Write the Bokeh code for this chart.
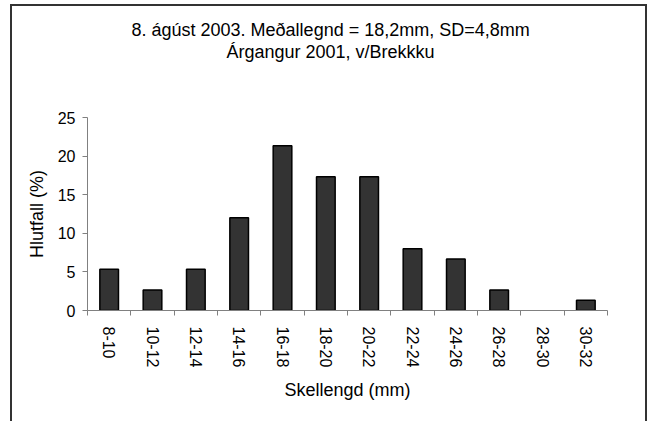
import math
from bokeh.plotting import figure
from bokeh.models import (Range1d, FixedTicker, CustomJSTickFormatter, Title,
                          ColumnDataSource)
from bokeh.embed import file_html
from bokeh.resources import INLINE

categories = ["8-10", "10-12", "12-14", "14-16", "16-18", "18-20",
              "20-22", "22-24", "24-26", "26-28", "28-30", "30-32"]
percent = [5.33, 2.67, 5.33, 12.0, 21.33, 17.33, 17.33, 8.0, 6.67, 2.67, 0.0, 1.33]
y_ticks = [0, 5, 10, 15, 20, 25]
title_lines = ["8. ágúst 2003. Meðallegnd = 18,2mm, SD=4,8mm", "Árgangur 2001, v/Brekkku"]
x_label = "Skellengd (mm)"
y_label = "Hlutfall (%)"

FONT = "Liberation Sans"

pos = [i + 0.5 for i in range(len(categories))]
bounds = list(range(len(categories) + 1))
line_alpha = [0.0 if v == 0 else 1.0 for v in percent]
source = ColumnDataSource(dict(x=pos, top=percent, cat=categories, la=line_alpha))

p = figure(width=637, height=417, output_backend="svg", toolbar_location=None,
           x_range=Range1d(0, len(categories)), y_range=Range1d(0, y_ticks[-1]),
           min_border_left=75, min_border_right=42, min_border_top=111, min_border_bottom=113)
p.styles = {"margin-left": "10px", "margin-top": "4px",
            "border-left": "2px solid #333333",
            "border-top": "2px solid #333333",
            "border-right": "2px solid #333333"}
p.title = None

# title block: spacer next to the frame, then the two lines
p.add_layout(Title(text=" ", text_font_size="18px", text_font=FONT, standoff=34), "above")
p.add_layout(Title(text=title_lines[1], align="left", offset=139, text_font_size="18px",
                   text_font=FONT, text_font_style="normal", text_color="black",
                   standoff=0), "above")
p.add_layout(Title(text=title_lines[0], align="left", offset=44, text_font_size="18px",
                   text_font=FONT, text_font_style="normal", text_color="black",
                   standoff=0), "above")

p.vbar(x="x", top="top", bottom=0, width=0.43, source=source,
       fill_color="#333333", line_color="black", line_width=1.5, line_alpha="la")

p.grid.visible = False
p.outline_line_color = None
p.background_fill_color = "white"
p.border_fill_color = "white"

# x axis
xa = p.xaxis[0]
xa.ticker = FixedTicker(ticks=pos, minor_ticks=bounds)
xa.formatter = CustomJSTickFormatter(args=dict(labels=categories),
                                     code="return labels[Math.round(tick - 0.5)] || '';")
xa.major_label_orientation = -math.pi / 2
xa.major_tick_line_color = None
xa.minor_tick_line_color = "#808080"
xa.minor_tick_in = 0
xa.minor_tick_out = 5
xa.axis_line_color = "#808080"
xa.major_label_text_font = FONT
xa.major_label_text_font_size = "16px"
xa.major_label_text_color = "black"
xa.major_label_standoff = 10
xa.axis_label = x_label
xa.axis_label_text_font = FONT
xa.axis_label_text_font_size = "18px"
xa.axis_label_text_font_style = "normal"
xa.axis_label_text_color = "black"
xa.axis_label_standoff = 10

# y axis
ya = p.yaxis[0]
ya.ticker = FixedTicker(ticks=y_ticks)
ya.major_tick_in = 0
ya.major_tick_out = 5
ya.major_tick_line_color = "#808080"
ya.minor_tick_line_color = None
ya.axis_line_color = "#808080"
ya.major_label_text_font = FONT
ya.major_label_text_font_size = "16px"
ya.major_label_text_color = "black"
ya.major_label_standoff = 7
ya.axis_label = y_label
ya.axis_label_text_font = FONT
ya.axis_label_text_font_size = "18px"
ya.axis_label_text_font_style = "normal"
ya.axis_label_text_color = "black"
ya.axis_label_standoff = 8

open("out.html", "w").write(file_html(p, INLINE))
